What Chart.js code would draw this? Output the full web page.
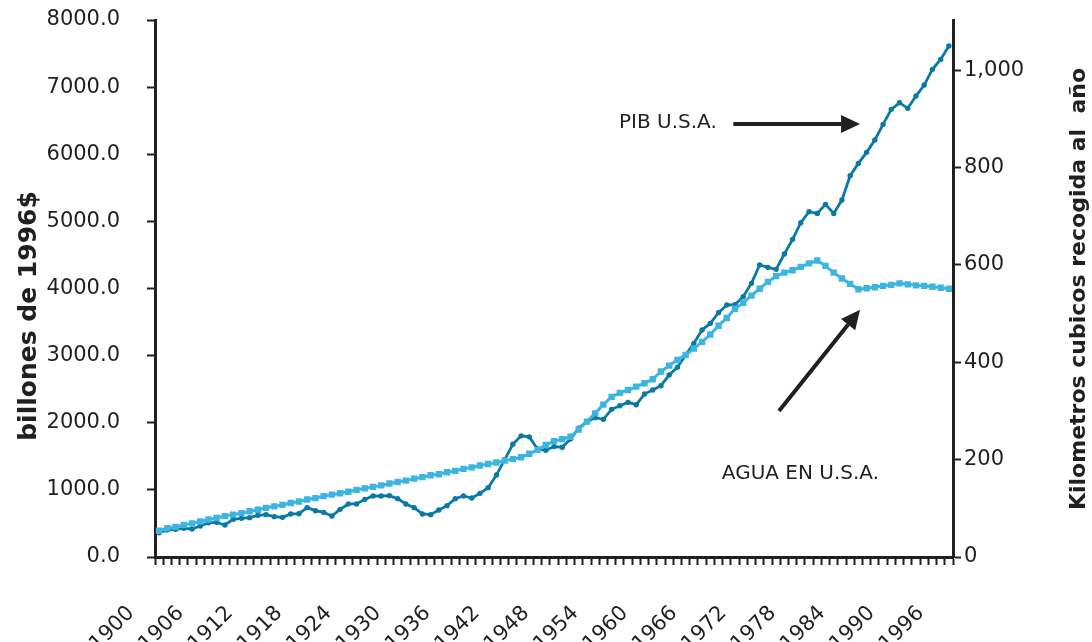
<!DOCTYPE html>
<html>
<head>
<meta charset="utf-8">
<script src="https://cdn.jsdelivr.net/npm/chart.js@4.4.1/dist/chart.umd.min.js"></script>
<style>
  html, body { margin: 0; padding: 0; background: #ffffff; overflow: hidden; }
  #wrap { width: 1092px; height: 642px; overflow: hidden; }
</style>
</head>
<body>
<div id="wrap"><canvas id="c" width="1092" height="642"></canvas></div>
<script>
// ---- data ----
const years = [
  1900,1901,1902,1903,1904,1905,1906,1907,1908,1909,
  1910,1911,1912,1913,1914,1915,1916,1917,1918,1919,
  1920,1921,1922,1923,1924,1925,1926,1927,1928,1929,
  1930,1931,1932,1933,1934,1935,1936,1937,1938,1939,
  1940,1941,1942,1943,1944,1945,1946,1947,1948,1949,
  1950,1951,1952,1953,1954,1955,1956,1957,1958,1959,
  1960,1961,1962,1963,1964,1965,1966,1967,1968,1969,
  1970,1971,1972,1973,1974,1975,1976,1977,1978,1979,
  1980,1981,1982,1983,1984,1985,1986,1987,1988,1989,
  1990,1991,1992,1993,1994,1995,1996
];
const xTickLabels = ['1900','1906','1912','1918','1924','1930','1936','1942','1948',
                     '1954','1960','1966','1972','1978','1984','1990','1996'];
// PIB U.S.A., billones de 1996$ (left axis)
const gdp = [
  362,402,412,427,417,462,511,516,477,561,
  576,586,621,631,601,591,641,645,735,690,
  665,611,710,790,790,859,909,909,914,869,
  790,735,641,631,700,765,869,909,879,948,
  1033,1221,1450,1680,1805,1790,1610,1590,1645,1635,
  1758,1917,2016,2076,2051,2200,2254,2304,2269,2428,
  2488,2552,2711,2825,3009,3183,3381,3481,3640,3754,
  3760,3878,4077,4350,4315,4285,4514,4732,4980,5144,
  5119,5254,5119,5318,5680,5864,6028,6212,6445,6669,
  6768,6684,6867,7031,7265,7413,7612
];
// Agua en U.S.A., kilometros cubicos al año (right axis)
const water = [
  54,59,62,66,69,73,77,80,84,87,
  90,94,97,101,104,107,111,114,118,121,
  125,128,131,134,138,141,144,147,151,154,
  157,161,164,168,170,174,177,181,184,188,
  191,194,198,201,205,212,220,230,238,242,
  247,262,278,295,313,329,337,343,350,357,
  365,381,393,405,415,428,442,457,475,491,
  510,522,537,551,565,577,584,589,596,603,
  609,598,584,572,561,550,552,554,557,559,
  562,560,558,557,555,553,551
];
const rightTickValues = [0, 200, 400, 600, 800, 1000];
const leftTitle = 'billones de 1996$';
const rightTitle = 'Kilometros cubicos recogida al  año';
// annotations in data coordinates: [category index, value]
const notes = [
  { label: 'PIB U.S.A.', axis: 'y',  text: [55.9, 6466], tail: [69.8, 6450], tip: [85.2, 6450] },
  { label: 'AGUA EN U.S.A.', axis: 'y1', text: [68.4, 170], tail: [75.35, 300], tip: [85.2, 508] }
];

const INK = '#231f20';
const FONT = 'DejaVu Sans';

const overlay = {
  id: 'overlay',
  afterDraw(chart) {
    const ctx = chart.ctx;
    const xs = chart.scales.x;
    ctx.save();
    ctx.fillStyle = INK;
    ctx.strokeStyle = INK;
    // axis titles (rotated, reading bottom to top)
    ctx.textAlign = 'center';
    ctx.textBaseline = 'middle';
    ctx.save();
    ctx.translate(29, 316);
    ctx.rotate(-Math.PI / 2);
    ctx.font = 'bold 25px "' + FONT + '"';
    ctx.fillText(leftTitle, 0, 0);
    ctx.restore();
    ctx.save();
    ctx.translate(1079, 289);
    ctx.rotate(-Math.PI / 2);
    ctx.font = 'bold 22px "' + FONT + '"';
    ctx.fillText(rightTitle, 0, 0);
    ctx.restore();
    // annotations
    ctx.font = '20px "' + FONT + '"';
    ctx.textAlign = 'left';
    notes.forEach(n => {
      const ys = chart.scales[n.axis];
      const tx = xs.getPixelForValue(n.text[0]), ty = ys.getPixelForValue(n.text[1]);
      ctx.fillText(n.label, tx, ty);
      const x0 = xs.getPixelForValue(n.tail[0]), y0 = ys.getPixelForValue(n.tail[1]);
      const x1 = xs.getPixelForValue(n.tip[0]),  y1 = ys.getPixelForValue(n.tip[1]);
      const ang = Math.atan2(y1 - y0, x1 - x0);
      const headLen = 19, headW = 9;
      const bx = x1 - headLen * Math.cos(ang), by = y1 - headLen * Math.sin(ang);
      ctx.lineWidth = 4;
      ctx.beginPath();
      ctx.moveTo(x0, y0);
      ctx.lineTo(bx, by);
      ctx.stroke();
      ctx.beginPath();
      ctx.moveTo(x1, y1);
      ctx.lineTo(bx + headW * Math.sin(ang), by - headW * Math.cos(ang));
      ctx.lineTo(bx - headW * Math.sin(ang), by + headW * Math.cos(ang));
      ctx.closePath();
      ctx.fill();
    });
    ctx.restore();
  }
};

new Chart(document.getElementById('c'), {
  type: 'line',
  data: {
    labels: years.map(String),
    datasets: [
      {
        label: 'AGUA EN U.S.A.',
        data: water,
        yAxisID: 'y1',
        borderColor: '#3db5e1',
        backgroundColor: '#3db5e1',
        borderWidth: 3,
        pointStyle: 'rect',
        pointRadius: 4.5,
        pointBorderWidth: 0,
        tension: 0
      },
      {
        label: 'PIB U.S.A.',
        data: gdp,
        yAxisID: 'y',
        borderColor: '#0a7aa3',
        backgroundColor: '#0a7aa3',
        borderWidth: 2.8,
        pointStyle: 'circle',
        pointRadius: 2.7,
        pointBorderWidth: 0,
        tension: 0
      }
    ]
  },
  options: {
    responsive: false,
    animation: false,
    devicePixelRatio: 1,
    layout: { padding: { top: 20, left: 0, right: 0, bottom: 0 } },
    plugins: { legend: { display: false }, tooltip: { enabled: false } },
    scales: {
      x: {
        type: 'category',
        offset: true,
        grid: { offset: true, drawOnChartArea: false, drawTicks: true, tickLength: 8, tickWidth: 2, tickColor: INK },
        border: { display: true, color: INK, width: 3 },
        ticks: {
          autoSkip: false,
          minRotation: 45,
          maxRotation: 45,
          padding: 36,
          labelOffset: -28,
          color: INK,
          font: { family: FONT, size: 21 },
          callback(v, i) { const s = String(years[i]); return xTickLabels.includes(s) ? s : ''; }
        },
        afterFit(s) { s.height = 642 - 557; s.paddingLeft = 0; s.paddingRight = 0; }
      },
      y: {
        position: 'left',
        min: 0, max: 8000,
        grid: { drawOnChartArea: false, drawTicks: true, tickLength: 8, tickWidth: 2, tickColor: INK },
        border: { display: true, color: INK, width: 3 },
        ticks: {
          stepSize: 1000,
          padding: 27,
          color: INK,
          font: { family: FONT, size: 21 },
          callback(v) { return Number(v).toFixed(1); }
        },
        afterFit(s) { s.width = 155; s.paddingTop = 0; s.paddingBottom = 0; }
      },
      y1: {
        position: 'right',
        min: 0, max: 1103,
        grid: { drawOnChartArea: false, drawTicks: true, tickLength: 8, tickWidth: 2, tickColor: INK },
        border: { display: true, color: INK, width: 3 },
        afterBuildTicks(s) { s.ticks = rightTickValues.map(v => ({ value: v })); },
        ticks: {
          padding: 3,
          color: INK,
          font: { family: FONT, size: 21 },
          callback(v) { return Number(v).toLocaleString('en-US'); }
        },
        afterFit(s) { s.width = 1092 - 953; s.paddingTop = 0; s.paddingBottom = 0; }
      }
    }
  },
  plugins: [overlay]
});
</script>
</body>
</html>
